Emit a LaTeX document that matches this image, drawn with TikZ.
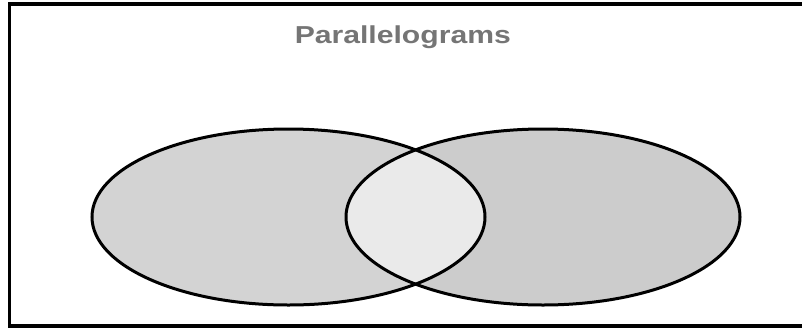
\documentclass[tikz,border=0pt]{standalone}
\usepackage{fontspec}
\setmainfont{Liberation Sans}
\definecolor{leftfill}{HTML}{D3D3D3}
\definecolor{rightfill}{HTML}{CCCCCC}
\definecolor{midfill}{HTML}{EAEAEA}
\definecolor{titlegray}{HTML}{757575}
\begin{document}
\begin{tikzpicture}[x=1pt,y=-1pt,
  setline/.style={line width=3pt, draw=black},
  frameline/.style={line width=3.4pt, draw=black},
  titletext/.style={font=\bfseries\fontsize{24.5}{24.5}\selectfont, text=titlegray, xscale=1.23, inner sep=0pt}]
\useasboundingbox (0,0) rectangle (802,327);
\clip (0,0) rectangle (802,327);
\fill[white] (0,0) rectangle (802,327);
\draw[frameline] (9.2,4) rectangle (808,326);
\node[titletext, anchor=base] (title) at (402.8,43) {Parallelograms};
% fills
\fill[leftfill] (288.5,217) ellipse [x radius=196.5, y radius=88];
\fill[rightfill] (543,217) ellipse [x radius=197, y radius=88];
\begin{scope}
  \clip (288.5,217) ellipse [x radius=196.5, y radius=88];
  \fill[midfill] (543,217) ellipse [x radius=197, y radius=88];
\end{scope}
% outlines
\draw[setline] (288.5,217) ellipse [x radius=196.5, y radius=88];
\draw[setline] (543,217) ellipse [x radius=197, y radius=88];
\end{tikzpicture}
\end{document}
